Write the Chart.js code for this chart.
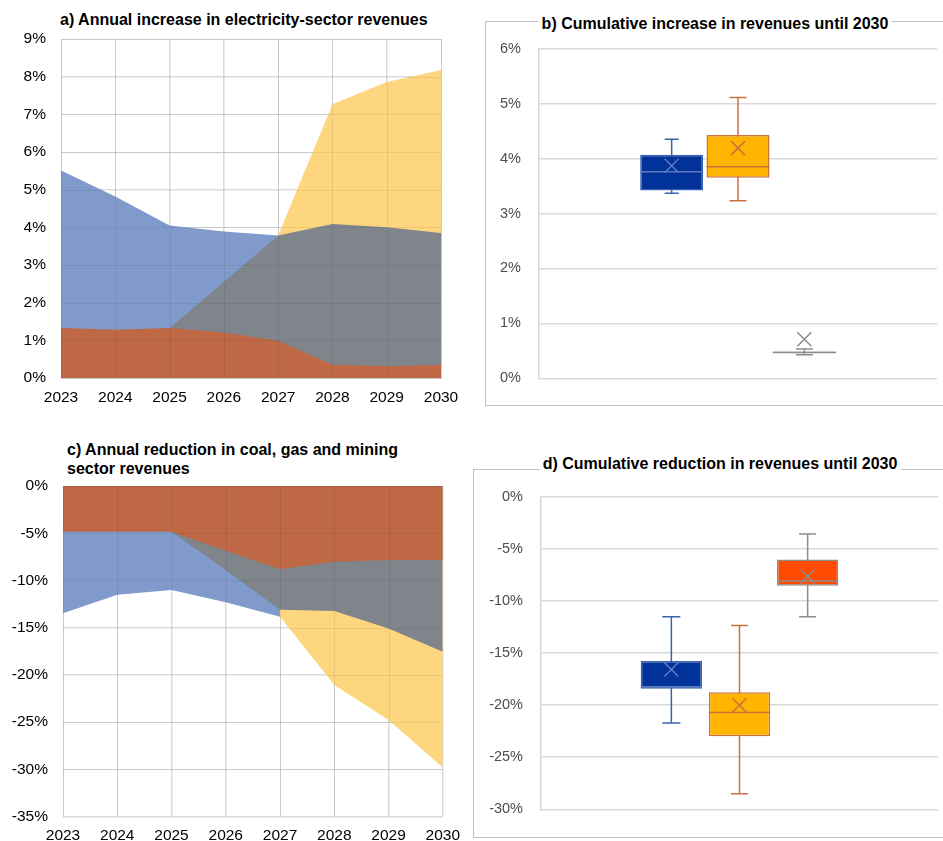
<!DOCTYPE html>
<html lang="en">
<head>
<meta charset="UTF-8">
<title>Revenues 2023-2030</title>
<script src="https://cdn.jsdelivr.net/npm/chart.js"></script>
<style>
    body {
        margin: 0;
        padding: 0;
        width: 943px;
        height: 841px;
        overflow: hidden;
        position: relative;
        background: #FFF;
        font-family: "Liberation Sans", Arial, sans-serif;
    }

    .painel {
        position: absolute;
    }

    .moldura {
        position: absolute;
        border: 1px solid #BFBFBF;
        box-sizing: border-box;
    }

    .titulo {
        position: absolute;
        font-weight: bold;
        font-size: 16px;
        line-height: 19px;
        color: #000;
        background: #FFF;
        white-space: nowrap;
    }

    .centro {
        transform: translateX(-50%);
        padding: 0 3px;
    }
</style>
</head>
<body>
    <div class="moldura" style="left:485px; top:21px; width:480px; height:385px;"></div>
    <div class="moldura" style="left:473px; top:469px; width:490px; height:369px;"></div>

    <canvas id="graficoA" class="painel" width="470" height="410" style="left:0; top:0;"></canvas>
    <canvas id="graficoB" class="painel" width="457" height="383" style="left:486px; top:22px;"></canvas>
    <canvas id="graficoC" class="painel" width="470" height="411" style="left:0; top:430px;"></canvas>
    <canvas id="graficoD" class="painel" width="469" height="366" style="left:474px; top:470px;"></canvas>

    <div class="titulo" style="left:60px; top:10px;">a) Annual increase in electricity-sector revenues</div>
    <div class="titulo centro" style="left:715px; top:14px;">b) Cumulative increase in revenues until 2030</div>
    <div class="titulo" style="left:67px; top:440px;">c) Annual reduction in coal, gas and mining<br>sector revenues</div>
    <div class="titulo centro" style="left:720px; top:454px;">d) Cumulative reduction in revenues until 2030</div>

<script>
    // dados
    const anos = ['2023', '2024', '2025', '2026', '2027', '2028', '2029', '2030'];

    // a) aumento anual das receitas do setor elétrico (%)
    const eletVermelho = [1.33, 1.28, 1.33, 1.21, 0.99, 0.35, 0.31, 0.35];
    const eletCinza = [null, null, 1.33, 2.55, 3.78, 4.09, 4.00, 3.85];
    const eletAzul = [5.51, 4.82, 4.05, 3.89, 3.78, null, null, null];
    const eletAmarelo = [null, null, null, null, 3.78, 7.27, 7.86, 8.18];

    // c) redução anual carvão, gás e mineração (%)
    const carvVermelho = [-4.83, -4.83, -4.83, -6.85, -8.82, -8.01, -7.83, -7.83];
    const carvCinza = [null, null, -4.83, -8.9, -13.1, -13.23, -15.07, -17.54];
    const carvAzul = [-13.48, -11.5, -11.0, -12.3, -13.83, null, null, null];
    const carvAmarelo = [null, null, null, null, -13.83, -21.07, -24.77, -29.78];

    // b) aumento acumulado até 2030 (box plot, 3 séries)
    const aumMin = [3.37, 3.23, 0.43];
    const aumQ1 = [3.42, 3.65, 0.46];
    const aumMediana = [3.76, 3.85, 0.47];
    const aumQ3 = [4.07, 4.43, 0.49];
    const aumMax = [4.35, 5.11, 0.535];
    const aumMedia = [3.87, 4.19, 0.71];

    // d) redução acumulada até 2030
    const redMin = [-21.72, -28.51, -11.53];
    const redQ1 = [-18.44, -23.0, -8.55];
    const redMediana = [-18.23, -20.70, -8.10];
    const redQ3 = [-15.76, -18.77, -6.02];
    const redMax = [-11.53, -12.36, -3.57];
    const redMedia = [-16.59, -20.02, -7.66];

    Chart.defaults.font.family = "'Liberation Sans', Arial, sans-serif";
    Chart.defaults.animation = false;
    Chart.defaults.plugins.legend.display = false;
    Chart.defaults.plugins.tooltip.enabled = false;

    const corGrade = '#D9D9D9';

    // grade fraca por cima das áreas (como no original, semi-transparente)
    const gradeSobreposta = {
        id: 'gradeSobreposta',
        afterDatasetsDraw(chart) {
            const ctx = chart.ctx;
            const a = chart.chartArea;
            ctx.save();
            ctx.strokeStyle = 'rgba(0,0,0,0.07)';
            ctx.lineWidth = 1;
            ctx.beginPath();
            chart.scales.x.ticks.forEach(function (t, i) {
                const x = Math.round(chart.scales.x.getPixelForTick(i)) + 0.5;
                ctx.moveTo(x, a.top);
                ctx.lineTo(x, a.bottom);
            });
            chart.scales.y.ticks.forEach(function (t, i) {
                const y = Math.round(chart.scales.y.getPixelForTick(i)) + 0.5;
                ctx.moveTo(a.left, y);
                ctx.lineTo(a.right, y);
            });
            ctx.stroke();
            ctx.restore();
        }
    };

    function area(dados, cor) {
        return {
            data: dados,
            backgroundColor: cor,
            borderWidth: 0,
            pointRadius: 0,
            fill: 'origin',
            tension: 0
        };
    }

    function plotarArea(id, series, yMin, yMax, passo, larguraY, padding, alturaX) {
        new Chart(document.getElementById(id), {
            type: 'line',
            data: {
                labels: anos,
                datasets: [
                    area(series[0], '#BF6845'),
                    area(series[1], '#7F858B'),
                    area(series[2], '#7F9ACB'),
                    area(series[3], '#FDD67F')
                ]
            },
            options: {
                responsive: false,
                layout: { padding: padding },
                scales: {
                    x: {
                        offset: false,
                        grid: { color: corGrade, drawTicks: false },
                        border: { color: corGrade },
                        ticks: { padding: 10, color: '#000', font: { size: 15.5 }, maxRotation: 0 },
                        afterFit: function (s) { s.height = alturaX; }
                    },
                    y: {
                        min: yMin,
                        max: yMax,
                        grid: { color: corGrade, drawTicks: false },
                        border: { color: corGrade },
                        ticks: {
                            stepSize: passo,
                            padding: 15,
                            color: '#000',
                            font: { size: 15.5 },
                            callback: function (v) { return v + '%'; }
                        },
                        afterFit: function (s) { s.width = larguraY; }
                    }
                }
            },
            plugins: [gradeSobreposta]
        });
    }

    plotarArea('graficoA', [eletVermelho, eletCinza, eletAzul, eletAmarelo], 0, 9, 1, 61,
        { top: 39, right: 29, left: 0, bottom: 0 }, 32);
    plotarArea('graficoC', [carvVermelho, carvCinza, carvAzul, carvAmarelo], -35, 0, 5, 63,
        { top: 56, right: 26, left: 0, bottom: 0 }, 24);

    // desenha bigodes, mediana e média sobre as barras flutuantes
    function pluginCaixa(minimos, maximos, medianas, medias, estilos) {
        return {
            id: 'caixas',
            beforeDatasetsDraw(chart) {
                const ctx = chart.ctx;
                const y = chart.scales.y;
                ctx.save();
                for (let i = 0; i < minimos.length; i++) {
                    const barra = chart.getDatasetMeta(i).data[0];
                    const x = barra.x;
                    const yA = y.getPixelForValue(maximos[i]);
                    const yB = y.getPixelForValue(minimos[i]);
                    const tampa = estilos[i].tampa;
                    ctx.strokeStyle = estilos[i].bigode;
                    ctx.lineWidth = 1.5;
                    ctx.beginPath();
                    ctx.moveTo(x, yA);
                    ctx.lineTo(x, yB);
                    ctx.moveTo(x - tampa, yA);
                    ctx.lineTo(x + tampa, yA);
                    ctx.moveTo(x - tampa, yB);
                    ctx.lineTo(x + tampa, yB);
                    ctx.stroke();
                }
                ctx.restore();
            },
            afterDatasetsDraw(chart) {
                const ctx = chart.ctx;
                const y = chart.scales.y;
                ctx.save();
                for (let i = 0; i < medianas.length; i++) {
                    const barra = chart.getDatasetMeta(i).data[0];
                    const x = barra.x;
                    const meia = barra.width / 2;
                    const yMed = y.getPixelForValue(medianas[i]);
                    ctx.strokeStyle = estilos[i].mediana;
                    ctx.lineWidth = 1.5;
                    ctx.beginPath();
                    ctx.moveTo(x - meia, yMed);
                    ctx.lineTo(x + meia, yMed);
                    ctx.stroke();

                    const yM = y.getPixelForValue(medias[i]);
                    ctx.strokeStyle = estilos[i].media;
                    ctx.beginPath();
                    ctx.moveTo(x - 7, yM - 7);
                    ctx.lineTo(x + 7, yM + 7);
                    ctx.moveTo(x + 7, yM - 7);
                    ctx.lineTo(x - 7, yM + 7);
                    ctx.stroke();
                }
                ctx.restore();
            }
        };
    }

    function caixa(q1, q3, i, fundo, borda) {
        return {
            data: [[q1[i], q3[i]]],
            backgroundColor: fundo,
            borderColor: borda,
            borderWidth: 1.5,
            borderSkipped: false
        };
    }

    function plotarCaixas(id, q1, q3, mins, maxs, meds, medias, cores, yMin, yMax, passo, larguraY, padding, cp, bp) {
        new Chart(document.getElementById(id), {
            type: 'bar',
            data: {
                labels: [''],
                datasets: [
                    caixa(q1, q3, 0, cores[0].fundo, cores[0].borda),
                    caixa(q1, q3, 1, cores[1].fundo, cores[1].borda),
                    caixa(q1, q3, 2, cores[2].fundo, cores[2].borda)
                ]
            },
            options: {
                responsive: false,
                layout: { padding: padding },
                categoryPercentage: cp,
                barPercentage: bp,
                scales: {
                    x: { display: false },
                    y: {
                        min: yMin,
                        max: yMax,
                        grid: { color: corGrade, drawTicks: false, lineWidth: 1.5 },
                        border: { color: corGrade, width: 1.5 },
                        ticks: {
                            stepSize: passo,
                            padding: 18,
                            color: '#4D4D4D',
                            font: { size: 14.5 },
                            callback: function (v) { return v + '%'; }
                        },
                        afterFit: function (s) { s.width = larguraY; }
                    }
                }
            },
            plugins: [pluginCaixa(mins, maxs, meds, medias, cores)]
        });
    }

    const azulCaixa = { fundo: '#003299', borda: '#3A62B0', bigode: '#3A62B0', mediana: '#5A7BC0', media: '#5E7CBE', tampa: 7 };
    const laranjaCaixa = { fundo: '#FFB400', borda: '#C9733C', bigode: '#C9733C', mediana: '#C9733C', media: '#C9733C', tampa: 8.5 };
    const cinzaCaixa = { fundo: '#8C8C8C', borda: '#8C8C8C', bigode: '#8C8C8C', mediana: '#8C8C8C', media: '#8C8C8C', tampa: 8.5 };
    const vermelhoCaixa = { fundo: '#FF4B00', borda: '#8C8C8C', bigode: '#8C8C8C', mediana: '#8C8C8C', media: '#8C8C8C', tampa: 8.5 };
    const azulCaixaD = Object.assign({}, azulCaixa, { tampa: 9 });

    plotarCaixas('graficoB', aumQ1, aumQ3, aumMin, aumMax, aumMediana, aumMedia,
        [azulCaixa, laranjaCaixa, cinzaCaixa], 0, 6, 1, 53,
        { top: 21, right: 6, left: 0, bottom: 22 }, 0.5, 0.95);
    plotarCaixas('graficoD', redQ1, redQ3, redMin, redMax, redMediana, redMedia,
        [azulCaixaD, laranjaCaixa, vermelhoCaixa], -30, 0, 5, 67,
        { top: 14, right: 5, left: 0, bottom: 16 }, 0.515, 0.9);
</script>
</body>
</html>
